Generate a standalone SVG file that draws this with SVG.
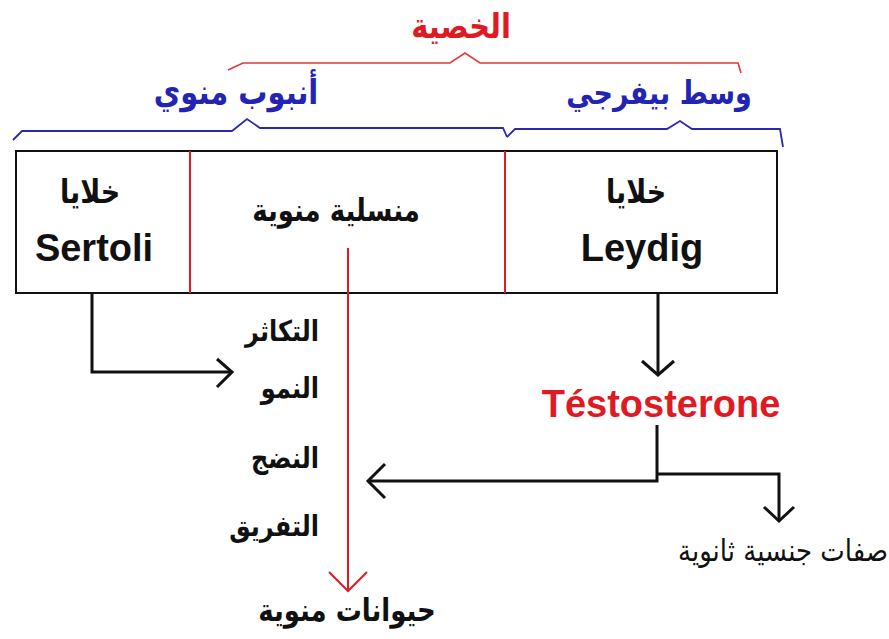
<svg xmlns="http://www.w3.org/2000/svg" width="889" height="639" viewBox="0 0 889 639">
<style>
.ar{font-family:"DejaVu Sans","Noto Sans",sans-serif;font-weight:bold}
.arr{font-family:"DejaVu Sans","Noto Sans",sans-serif;font-weight:normal}
.lat{font-family:"Liberation Sans",Arial,sans-serif;font-weight:bold}
.blk{fill:#111}
.red{fill:#e01a22}
.blue{fill:#2424b4}
.ln{fill:none;stroke:#111;stroke-width:3}
.rln{fill:none;stroke:#e01a22;stroke-width:2}
.brace-r{fill:none;stroke:#e03a3a;stroke-width:1.6}
.brace-b{fill:none;stroke:#2a2ab0;stroke-width:1.8}
</style>
<rect width="889" height="639" fill="#fff"/>
<g id="braces">
<path class="brace-r" d="M228,70 L243,63 L450,63 L465,53 L480,63 L738,63 L741,73"/>
<path class="brace-b" d="M13,140 L22,131 L232,131 L247,119 L260,128 L503,128 L507,137"/>
<path class="brace-b" d="M507,137 L515,129 L667,129 L680,121 L692,129 L780,129 L783,147"/>
</g>
<g id="titles">
<text class="ar red" transform="translate(461,38) scale(1,1.2)" font-size="29" text-anchor="middle">الخصية</text>
<text class="ar blue" transform="translate(236,104) scale(1,1.2)" font-size="29" text-anchor="middle">أنبوب منوي</text>
<text class="ar blue" transform="translate(659,104) scale(1,1.2)" font-size="27" text-anchor="middle">وسط بيفرجي</text>
</g>
<g id="box">
<rect x="16" y="151" width="761" height="142" fill="#fff" stroke="#111" stroke-width="2"/>
<line class="rln" x1="190" y1="151" x2="190" y2="293"/>
<line class="rln" x1="505" y1="151" x2="505" y2="293"/>
</g>
<g id="sertoli">
<text class="ar blk" transform="translate(90,203) scale(1,1.2)" font-size="27" text-anchor="middle">خلايا</text>
<text class="lat blk" x="94" y="261" font-size="38" text-anchor="middle">Sertoli</text>
</g>
<g id="germinal">
<text class="ar blk" transform="translate(336,221) scale(1,1.2)" font-size="26" text-anchor="middle">منسلية منوية</text>
</g>
<g id="leydig">
<text class="ar blk" transform="translate(636,203) scale(1,1.2)" font-size="27" text-anchor="middle">خلايا</text>
<text class="lat blk" x="642" y="261" font-size="38" text-anchor="middle">Leydig</text>
</g>
<g id="stages">
<text class="ar blk" transform="translate(319,341) scale(1,1.2)" font-size="24" text-anchor="end">التكاثر</text>
<text class="ar blk" transform="translate(319,398) scale(1,1.2)" font-size="24" text-anchor="end">النمو</text>
<text class="ar blk" transform="translate(319,468) scale(1,1.2)" font-size="24" text-anchor="end">النضج</text>
<text class="ar blk" transform="translate(319,536) scale(1,1.2)" font-size="24" text-anchor="end">التفريق</text>
</g>
<g id="sperm">
<text class="ar blk" transform="translate(347,621) scale(1,1.2)" font-size="26" text-anchor="middle">حيوانات منوية</text>
</g>
<g id="testosterone">
<text class="lat red" x="661" y="417" font-size="38" text-anchor="middle">Téstosterone</text>
</g>
<g id="secondary">
<text class="arr blk" transform="translate(783,561) scale(1,1.15)" font-size="26" text-anchor="middle">صفات جنسية ثانوية</text>
</g>
<g id="connectors">
<path class="ln" d="M92,293 L92,372 L232,372"/>
<path class="ln" d="M217,359 L232,372 L217,387"/>
<path class="rln" d="M348,248 L348,591"/>
<path class="rln" d="M329,572 L348,591 L367,572"/>
<path class="ln" d="M658,293 L658,375"/>
<path class="ln" d="M642,361 L658,375 L674,361"/>
<path class="ln" d="M657,425 L657,481 L368,481"/>
<path class="ln" d="M385,464 L368,481 L385,498"/>
<path class="ln" d="M657,474 L779,474 L779,521"/>
<path class="ln" d="M764,507 L779,521 L794,507"/>
</g>
</svg>
